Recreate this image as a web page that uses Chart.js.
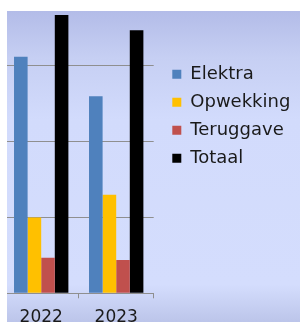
<!DOCTYPE html>
<html>
<head>
<meta charset="utf-8">
<script src="https://cdn.jsdelivr.net/npm/chart.js@4/dist/chart.umd.min.js"></script>
<style>
  body { margin: 0; overflow: hidden; background: #fff; }
  #wrap {
    position: absolute; left: 7px; top: 11px; width: 293px; height: 311px; overflow: hidden;
    background: linear-gradient(#b3bce8 0%, #c6cff3 15%, #d2dbfc 35%, #d4ddfd 88%, #bcc5ea 100%);
  }
  #chart { position: absolute; left: -7px; top: -31px; }
</style>
</head>
<body>
<div id="wrap"><canvas id="chart" width="300" height="342"></canvas></div>
<script>
const years = ["2022", "2023"];
const elektra = [3120, 2600];
const opwekking = [1000, 1300];
const teruggave = [470, 440];
const totaal = [3670, 3470];
const yMax = 4000;
const yStep = 1000;

const font = "DejaVu Sans";
const textColor = "#1a1a1a";
const lineColor = "#8f8f8f";

// push the legend block to where it sits in the original
// (right edge widened too, the legend clips to its own box)
const legendNudge = {
  id: "legendNudge",
  afterLayout(chart) {
    const lg = chart.legend;
    lg.left += 8.6;
    lg.right = chart.width;
    lg.width = lg.right - lg.left;
    lg.top += 65.2;
    lg.bottom += 65.2;
  },
};

function ds(label, data, color) {
  return { label: label, data: data, backgroundColor: color, borderWidth: 0 };
}

new Chart(document.getElementById("chart"), {
  type: "bar",
  data: {
    labels: years,
    datasets: [
      ds("Elektra", elektra, "#4f81bd"),
      ds("Opwekking", opwekking, "#ffc000"),
      ds("Teruggave", teruggave, "#c0504d"),
      ds("Totaal", totaal, "#000000"),
    ],
  },
  options: {
    responsive: false,
    animation: false,
    datasets: { bar: { categoryPercentage: 0.725, barPercentage: 1 } },
    layout: { padding: { left: 3.7, top: 10.1, right: 26.3, bottom: 0 } },
    plugins: {
      tooltip: { enabled: false },
      legend: {
        position: "right",
        align: "start",
        maxWidth: 120,
        labels: {
          boxWidth: 9,
          boxHeight: 9,
          padding: 10,
          color: textColor,
          font: { family: font, size: 18 },
        },
      },
    },
    scales: {
      x: {
        grid: { drawOnChartArea: false, tickLength: 5, color: lineColor },
        border: { color: lineColor },
        ticks: { color: textColor, padding: 9, font: { family: font, size: 17 } },
        afterFit(s) { s.height = 28.7; },
      },
      y: {
        min: 0,
        max: yMax,
        ticks: { display: false, stepSize: yStep },
        grid: { color: lineColor, drawTicks: false },
        border: { display: false },
        afterFit(s) { s.width = 0; },
      },
    },
  },
  plugins: [legendNudge],
});
</script>
</body>
</html>
